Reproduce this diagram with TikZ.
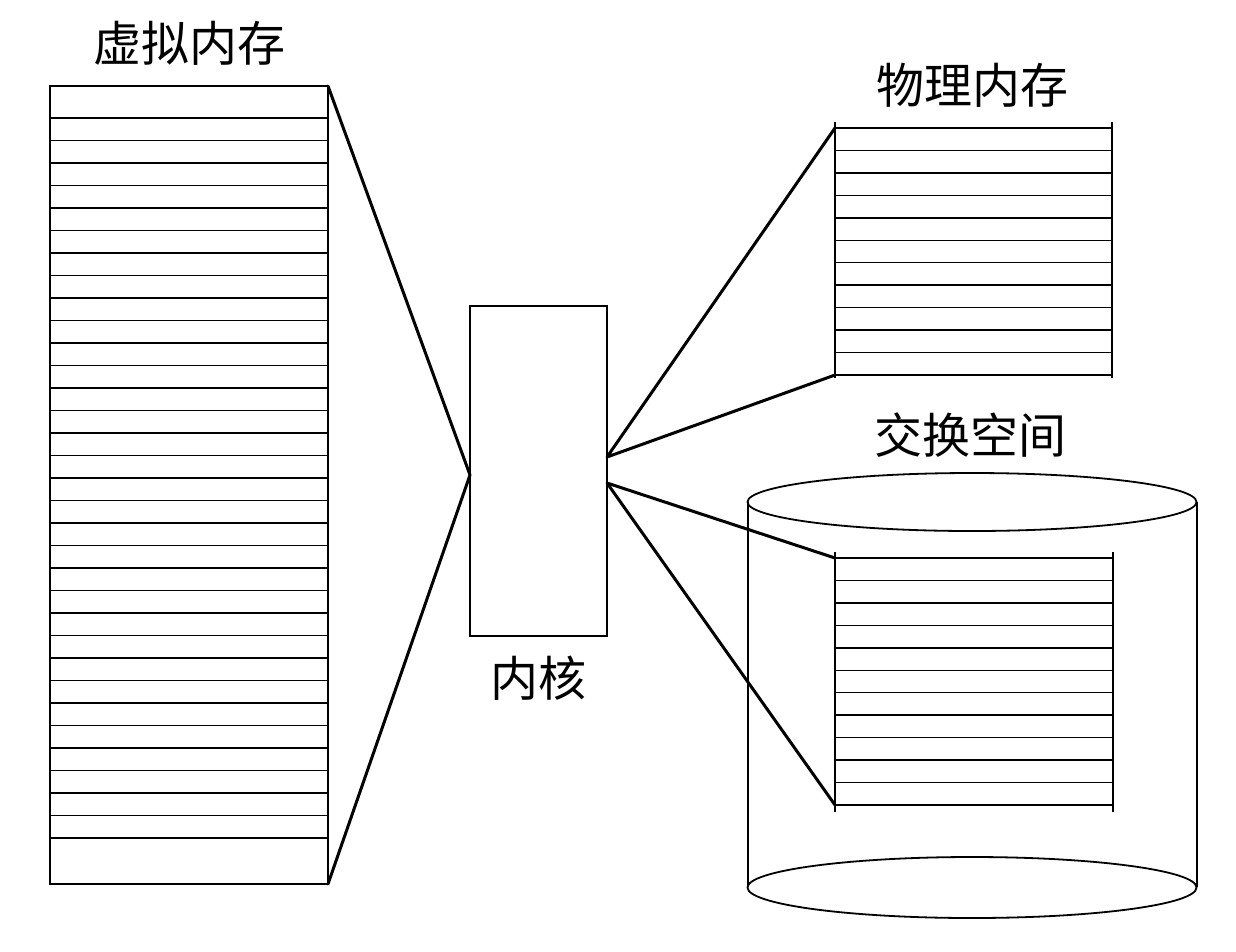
\documentclass[tikz,border=0pt]{standalone}
\usepackage{fontspec}
\newfontfamily\cjk{Noto Sans CJK SC}
\begin{document}
\begin{tikzpicture}[x=1pt,y=-1pt,
  box/.style={draw, line width=2pt, inner sep=0pt, outer sep=0pt, anchor=north west},
  stripe/.style={line width=1.4pt},
  side/.style={line width=1.8pt},
  link/.style={line width=3pt, line join=round, line cap=round},
  lbl/.style={font=\cjk\fontsize{48}{56}\selectfont, inner sep=0pt}]
\useasboundingbox[fill=white] (0,0) rectangle (1236,951);

% labels
\node[lbl] (tvm) at (189,43) {虚拟内存};
\node[lbl] (tpm) at (972,85) {物理内存};
\node[lbl] (tsw) at (970,435) {交换空间};
\node[lbl] (tk) at (538,678) {内核};

% virtual memory
\node[box, minimum width=278pt, minimum height=798pt] (vm) at (50,86) {};
\foreach \i in {0,...,32}
  \draw[stripe] (50,{118+22.5*\i}) -- (328,{118+22.5*\i});

% kernel
\node[box, minimum width=137pt, minimum height=330pt] (kern) at (470,306) {};
\coordinate (kl) at (470,475);
\coordinate (kr1) at (607,457);
\coordinate (kr2) at (607,483);

% physical memory
\draw[side] (835,122) -- (835,378);
\draw[side] (1112,122) -- (1112,378);
\foreach \i in {0,...,11}
  \draw[stripe] (835,{128+22.45*\i}) -- (1112,{128+22.45*\i});
\coordinate (pmtl) at (835,128);
\coordinate (pmbl) at (835,375);

% swap space cylinder
\draw[side] (748,502) -- (748,887);
\draw[side] (1197,502) -- (1197,887);
\draw[side] (972,502) ellipse [x radius=224.5pt, y radius=29pt];
\draw[side] (972,887.5) ellipse [x radius=224.5pt, y radius=30.5pt];
\draw[side] (835,552) -- (835,812);
\draw[side] (1113,552) -- (1113,812);
\foreach \i in {0,...,11}
  \draw[stripe] (835,{558+22.45*\i}) -- (1113,{558+22.45*\i});
\coordinate (swtl) at (835,558);
\coordinate (swbl) at (835,805);

% connectors
\draw[link] (vm.north east) -- (kl) -- (vm.south east);
\draw[link] (pmtl) -- (kr1) -- (pmbl);
\draw[link] (swtl) -- (kr2) -- (swbl);
\end{tikzpicture}
\end{document}
